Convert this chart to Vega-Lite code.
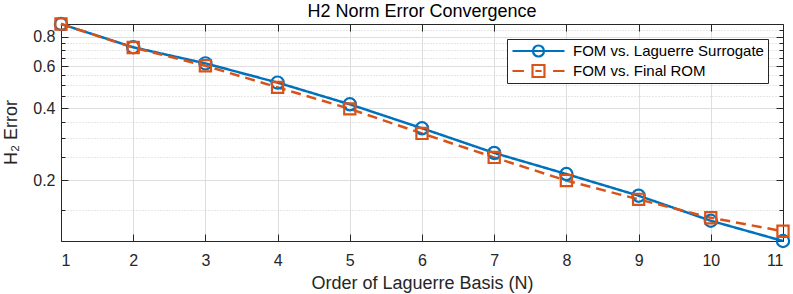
{
  "$schema": "https://vega.github.io/schema/vega-lite/v6.json",
  "width": 722,
  "height": 217,
  "autosize": {"type": "none"},
  "padding": {"left": 61, "top": 24, "right": 10, "bottom": 53},
  "background": "white",
  "title": {"text": "H2 Norm Error Convergence", "fontSize": 18, "fontWeight": "normal", "color": "#000000", "font": "Liberation Sans", "anchor": "middle", "offset": 6, "dy": 14},
  "config": {
    "view": {"stroke": null},
    "font": "Liberation Sans",
    "axis": {"domainColor": "#262626", "domainWidth": 1, "tickColor": "#262626", "tickWidth": 1, "labelColor": "#262626", "labelFont": "Liberation Sans", "labelFontSize": 16, "titleFont": "Liberation Sans", "titleFontSize": 18, "titleFontWeight": "normal", "titleColor": "#262626", "labelOverlap": false},
    "legend": {"title": null, "orient": "top-right", "offset": 15, "padding": 4, "fillColor": "white", "strokeColor": "#262626", "symbolSize": 2704, "symbolStrokeWidth": 2.2, "symbolFillColor": "transparent", "symbolOpacity": 1, "symbolOffset": 0, "labelOffset": 7, "labelFontSize": 15, "labelFont": "Liberation Sans", "labelColor": "#000000", "labelLimit": 400, "rowPadding": 4, "clipHeight": 16}
  },
  "data": {
    "values": [
      {"N": 1, "series": "FOM vs. Laguerre Surrogate", "err": 0.904},
      {"N": 2, "series": "FOM vs. Laguerre Surrogate", "err": 0.722},
      {"N": 3, "series": "FOM vs. Laguerre Surrogate", "err": 0.618},
      {"N": 4, "series": "FOM vs. Laguerre Surrogate", "err": 0.513},
      {"N": 5, "series": "FOM vs. Laguerre Surrogate", "err": 0.416},
      {"N": 6, "series": "FOM vs. Laguerre Surrogate", "err": 0.330},
      {"N": 7, "series": "FOM vs. Laguerre Surrogate", "err": 0.260},
      {"N": 8, "series": "FOM vs. Laguerre Surrogate", "err": 0.212},
      {"N": 9, "series": "FOM vs. Laguerre Surrogate", "err": 0.172},
      {"N": 10, "series": "FOM vs. Laguerre Surrogate", "err": 0.135},
      {"N": 11, "series": "FOM vs. Laguerre Surrogate", "err": 0.111},
      {"N": 1, "series": "FOM vs. Final ROM", "err": 0.904},
      {"N": 2, "series": "FOM vs. Final ROM", "err": 0.720},
      {"N": 3, "series": "FOM vs. Final ROM", "err": 0.604},
      {"N": 4, "series": "FOM vs. Final ROM", "err": 0.490},
      {"N": 5, "series": "FOM vs. Final ROM", "err": 0.398},
      {"N": 6, "series": "FOM vs. Final ROM", "err": 0.314},
      {"N": 7, "series": "FOM vs. Final ROM", "err": 0.249},
      {"N": 8, "series": "FOM vs. Final ROM", "err": 0.199},
      {"N": 9, "series": "FOM vs. Final ROM", "err": 0.166},
      {"N": 10, "series": "FOM vs. Final ROM", "err": 0.139},
      {"N": 11, "series": "FOM vs. Final ROM", "err": 0.122}
    ]
  },
  "layer": [
    {
      "mark": {"type": "line", "strokeWidth": 2.5},
      "encoding": {
        "x": {"field": "N", "type": "quantitative", "scale": {"domain": [1, 11], "nice": false, "zero": false},
          "axis": {"orient": "bottom", "values": [1, 2, 3, 4, 5, 6, 7, 8, 9, 10, 11], "format": "d", "title": "Order of Laguerre Basis (N)", "grid": true, "gridColor": "#dedede", "tickSize": -7, "labelPadding": 18, "titlePadding": 6}},
        "y": {"field": "err", "type": "quantitative", "scale": {"type": "log", "domain": [0.111, 0.904], "nice": false, "zero": false},
          "axis": {"orient": "left", "values": [0.15, 0.2, 0.25, 0.3, 0.35, 0.4, 0.45, 0.5, 0.55, 0.6, 0.65, 0.7, 0.75, 0.8, 0.85],
            "labelExpr": "indexof([0.2, 0.4, 0.6, 0.8], datum.value) >= 0 ? format(datum.value, '.1f') : ''",
            "grid": true,
            "gridColor": {"condition": {"test": "indexof([0.2, 0.4, 0.6, 0.8], datum.value) >= 0", "value": "#dedede"}, "value": "#cfcfcf"},
            "gridDash": {"condition": {"test": "indexof([0.2, 0.4, 0.6, 0.8], datum.value) >= 0", "value": []}, "value": [1, 2]},
            "tickSize": {"condition": {"test": "indexof([0.2, 0.4, 0.6, 0.8], datum.value) >= 0", "value": -7}, "value": -4},
            "labelPadding": 13,
            "title": "H₂ Error", "titleX": -45, "titleY": 108, "titleBaseline": "alphabetic", "titleAngle": -90, "titleAlign": "center"}},
        "color": {"field": "series", "type": "nominal", "scale": {"domain": ["FOM vs. Laguerre Surrogate", "FOM vs. Final ROM"], "range": ["#0072BD", "#D95319"]}, "legend": null},
        "strokeDash": {"field": "series", "type": "nominal", "scale": {"domain": ["FOM vs. Laguerre Surrogate", "FOM vs. Final ROM"], "range": [[1, 0], [10, 6]]}, "legend": null}
      }
    },
    {
      "mark": {"type": "point", "filled": false, "strokeWidth": 2.2, "opacity": 1},
      "encoding": {
        "x": {"field": "N", "type": "quantitative", "axis": {"orient": "top", "values": [1, 2, 3, 4, 5, 6, 7, 8, 9, 10, 11], "labels": false, "grid": false, "tickSize": -7, "title": null}},
        "y": {"field": "err", "type": "quantitative",
          "axis": {"orient": "right", "values": [0.15, 0.2, 0.25, 0.3, 0.35, 0.4, 0.45, 0.5, 0.55, 0.6, 0.65, 0.7, 0.75, 0.8, 0.85], "labels": false, "grid": false, "title": null,
            "tickSize": {"condition": {"test": "indexof([0.2, 0.4, 0.6, 0.8], datum.value) >= 0", "value": -7}, "value": -4}}},
        "color": {"field": "series", "type": "nominal", "legend": null},
        "shape": {"field": "series", "type": "nominal", "scale": {"domain": ["FOM vs. Laguerre Surrogate", "FOM vs. Final ROM"], "range": ["circle", "square"]}, "legend": null},
        "size": {"field": "series", "type": "nominal", "scale": {"domain": ["FOM vs. Laguerre Surrogate", "FOM vs. Final ROM"], "range": [150, 125]}, "legend": null}
      }
    },
    {
      "mark": {"type": "point", "filled": false, "opacity": 0},
      "encoding": {
        "x": {"field": "N", "type": "quantitative", "axis": null},
        "y": {"field": "err", "type": "quantitative", "axis": null},
        "stroke": {"field": "series", "type": "nominal",
          "scale": {"domain": ["FOM vs. Laguerre Surrogate", "FOM vs. Final ROM"], "range": ["#0072BD", "#D95319"]},
          "legend": {"encode": {"symbols": {"update": {"opacity": {"value": 1}, "fill": {"value": "transparent"}}}}}},
        "shape": {"field": "series", "type": "nominal",
          "scale": {"domain": ["FOM vs. Laguerre Surrogate", "FOM vs. Final ROM"], "range": ["M-1,0H1M0.2115,0C0.2115,0.1168,0.1168,0.2115,0,0.2115C-0.1168,0.2115,-0.2115,0.1168,-0.2115,0C-0.2115,-0.1168,-0.1168,-0.2115,0,-0.2115C0.1168,-0.2115,0.2115,-0.1168,0.2115,0Z", "M-1,0H-0.56M-0.12,0H0.12M0.56,0H1M-0.23,-0.23H0.23V0.23H-0.23Z"]},
          "legend": {"encode": {"symbols": {"update": {"opacity": {"value": 1}, "fill": {"value": "transparent"}}}}}
        }
      }
    }
  ],
  "resolve": {"scale": {"shape": "independent", "size": "independent", "stroke": "independent"}, "axis": {"x": "independent", "y": "independent"}}
}
